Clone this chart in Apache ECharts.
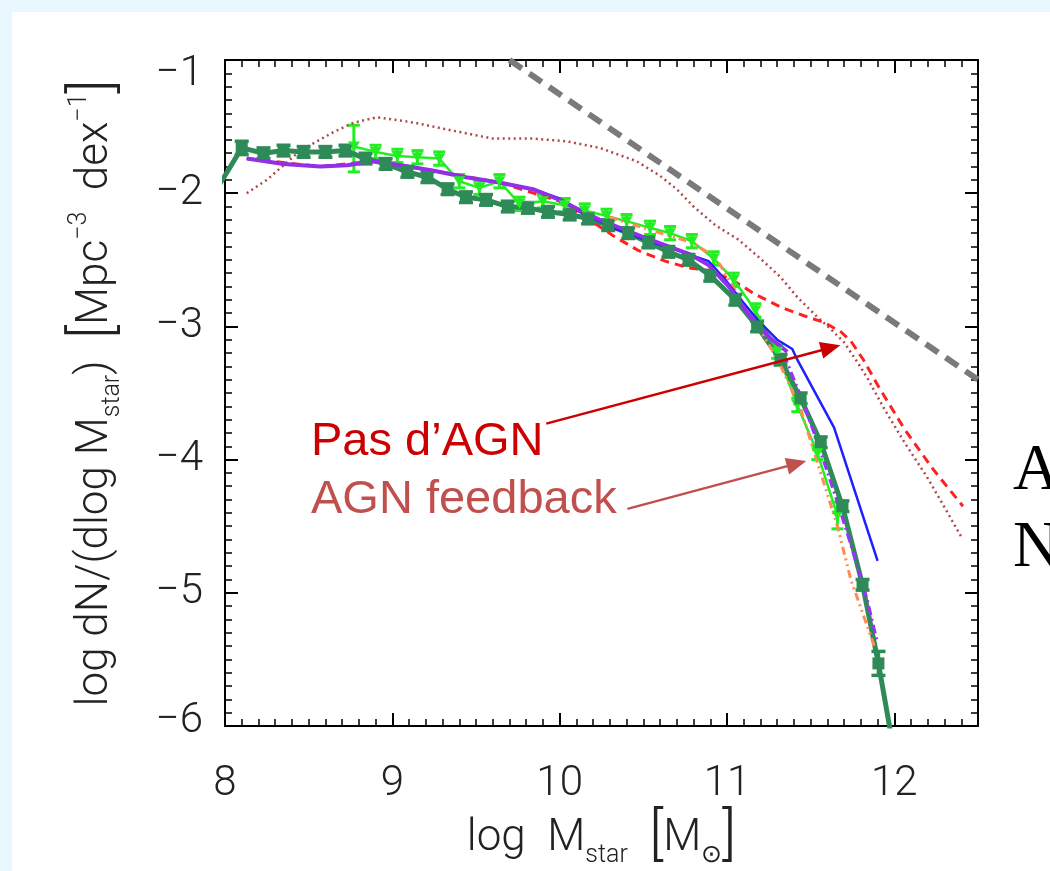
<!DOCTYPE html>
<html>
<head>
<meta charset="utf-8">
<script src="https://cdn.jsdelivr.net/npm/echarts@6/dist/echarts.min.js"></script>
<style>
  html, body { margin: 0; padding: 0; background: #E9F8FE; }
  #chart { width: 1050px; height: 871px; }
</style>
</head>
<body>
<div id="chart"></div>
<script>
// Galaxy stellar mass function: models with / without AGN feedback vs. observations

// tick labels
const xTicks = [8, 9, 10, 11, 12];
const yTicks = [-6, -5, -4, -3, -2, -1];

// straight reference line (grey, long dashes)
const refX = [9.70, 12.50];
const refY = [-1.00, -3.40];

// dotted brown-red model
const dotX = [8.13, 8.25, 8.45, 8.65, 8.77, 8.91, 9.13, 9.36, 9.60, 9.84, 10.04, 10.24, 10.46, 10.60, 10.70, 10.80, 10.93, 11.07, 11.19, 11.32, 11.42, 11.54, 11.62, 11.70, 11.78, 11.84, 11.94, 12.06, 12.19, 12.31, 12.40];
const dotY = [-2.00, -1.90, -1.68, -1.54, -1.47, -1.43, -1.47, -1.53, -1.59, -1.59, -1.61, -1.66, -1.76, -1.87, -1.97, -2.10, -2.24, -2.35, -2.48, -2.63, -2.78, -2.93, -3.02, -3.12, -3.27, -3.39, -3.62, -3.87, -4.12, -4.38, -4.58];

// red dashed model (no AGN feedback)
const noAgnX = [8.13, 8.57, 8.89, 9.24, 9.64, 10.00, 10.18, 10.32, 10.47, 10.63, 10.77, 10.89, 11.03, 11.17, 11.33, 11.46, 11.58, 11.68, 11.74, 11.82, 11.90, 12.06, 12.23, 12.41];
const noAgnY = [-1.74, -1.80, -1.76, -1.83, -1.92, -2.06, -2.20, -2.32, -2.43, -2.51, -2.56, -2.58, -2.65, -2.76, -2.86, -2.92, -2.97, -3.04, -3.11, -3.26, -3.44, -3.77, -4.07, -4.35];

// blue solid model
const blueX = [8.13, 8.35, 8.57, 8.73, 8.89, 9.05, 9.24, 9.44, 9.64, 9.84, 10.00, 10.12, 10.32, 10.53, 10.73, 10.89, 10.99, 11.09, 11.19, 11.30, 11.39, 11.42, 11.64, 11.90];
const blueY = [-1.74, -1.78, -1.80, -1.79, -1.76, -1.79, -1.83, -1.88, -1.92, -1.97, -2.04, -2.14, -2.26, -2.36, -2.44, -2.51, -2.65, -2.81, -2.96, -3.10, -3.17, -3.25, -3.76, -4.76];

// purple solid model
const purpleX = [8.13, 8.35, 8.57, 8.73, 8.89, 9.05, 9.24, 9.44, 9.64, 9.84, 10.00, 10.14, 10.24, 10.36, 10.50, 10.65, 10.78, 10.89, 11.01, 11.13, 11.26, 11.36];
const purpleY = [-1.74, -1.78, -1.80, -1.79, -1.76, -1.79, -1.83, -1.88, -1.92, -1.97, -2.05, -2.14, -2.20, -2.26, -2.33, -2.40, -2.46, -2.54, -2.70, -2.91, -3.09, -3.19];

// purple dash-dot model (high-mass tail)
const violetX = [11.34, 11.44, 11.54, 11.66, 11.76, 11.84, 11.90];
const violetY = [-3.21, -3.52, -3.87, -4.32, -4.72, -5.06, -5.38];

// orange dash-dot-dot model (AGN feedback)
const agnX = [10.30, 10.55, 10.79, 10.93, 11.05, 11.19, 11.30, 11.44, 11.54, 11.66, 11.74, 11.88];
const agnY = [-2.18, -2.28, -2.37, -2.48, -2.73, -3.01, -3.24, -3.62, -4.02, -4.50, -4.90, -5.40];

// light green observational points with error bars
const lgX  = [8.77, 8.90, 9.03, 9.15, 9.28, 9.40, 9.52, 9.64, 9.76, 9.90, 10.03, 10.15, 10.28, 10.40, 10.54, 10.66, 10.79, 10.92, 11.04, 11.17, 11.30, 11.42, 11.54, 11.66];
const lgY  = [-1.65, -1.69, -1.72, -1.73, -1.74, -1.91, -1.96, -1.91, -2.08, -2.06, -2.09, -2.13, -2.17, -2.21, -2.26, -2.30, -2.36, -2.49, -2.65, -2.88, -3.19, -3.59, -3.95, -4.42];
const lgLo = [-1.84, -1.74, -1.77, -1.78, -1.79, -1.96, -2.01, -1.96, -2.13, -2.11, -2.14, -2.18, -2.22, -2.26, -2.31, -2.35, -2.41, -2.54, -2.70, -2.93, -3.24, -3.64, -4.00, -4.52];
const lgHi = [-1.49, -1.64, -1.67, -1.68, -1.69, -1.86, -1.91, -1.86, -2.03, -2.01, -2.04, -2.08, -2.12, -2.16, -2.21, -2.25, -2.31, -2.44, -2.60, -2.83, -3.14, -3.54, -3.90, -4.32];

// dark green observational points with error bars
const dgX  = [7.96, 8.10, 8.23, 8.35, 8.47, 8.60, 8.72, 8.84, 8.96, 9.09, 9.21, 9.33, 9.44, 9.56, 9.69, 9.81, 9.93, 10.06, 10.17, 10.29, 10.41, 10.53, 10.65, 10.77, 10.90, 11.05, 11.18, 11.32, 11.44, 11.56, 11.69, 11.81, 11.905, 12.02];
const dgY  = [-1.95, -1.66, -1.70, -1.68, -1.69, -1.69, -1.68, -1.74, -1.78, -1.84, -1.88, -1.97, -2.03, -2.05, -2.10, -2.11, -2.14, -2.16, -2.19, -2.24, -2.30, -2.37, -2.44, -2.50, -2.62, -2.80, -3.00, -3.25, -3.54, -3.87, -4.35, -4.94, -5.53, -6.35];
const dgErr = [0, 0.05, 0.04, 0.04, 0.04, 0.04, 0.04, 0.04, 0.04, 0.04, 0.04, 0.04, 0.04, 0.04, 0.04, 0.04, 0.04, 0.04, 0.04, 0.04, 0.04, 0.04, 0.04, 0.04, 0.04, 0.04, 0.04, 0.04, 0.04, 0.04, 0.04, 0.04, 0.09, 0];

// annotation arrows: [start, end] in data coordinates
const arrowNoAgn = [[9.92, -3.73], [11.62, -3.16]];
const arrowAgn   = [[10.405, -4.37], [11.416, -4.03]];

const FONT = 'Roboto, "DejaVu Sans", sans-serif';
const AX = '#222';

const zip = (xs, ys) => xs.map((x, i) => [x, ys[i]]);

function errorBars(capHalf, color, width) {
  return function (params, api) {
    const x = api.value(0), lo = api.value(1), hi = api.value(2);
    if (hi === lo) return null;
    const a = api.coord([x, lo]), b = api.coord([x, hi]);
    const st = { stroke: color, lineWidth: width };
    return {
      type: 'group',
      children: [
        { type: 'line', shape: { x1: a[0], y1: a[1], x2: b[0], y2: b[1] }, style: st },
        { type: 'line', shape: { x1: a[0] - capHalf, y1: a[1], x2: a[0] + capHalf, y2: a[1] }, style: st },
        { type: 'line', shape: { x1: b[0] - capHalf, y1: b[1], x2: b[0] + capHalf, y2: b[1] }, style: st }
      ]
    };
  };
}

const tickFont = { fontFamily: FONT, fontWeight: 300, fontSize: 42, color: AX };

function baseAxis(extra) {
  return Object.assign({
    type: 'value',
    splitLine: { show: false },
    axisLine: { show: true, onZero: false, lineStyle: { color: '#000', width: 2 } },
    axisTick: { show: true, inside: true, length: 13, lineStyle: { color: '#000', width: 2 } },
    axisLabel: { show: false }
  }, extra);
}

const minorAxisTick = { show: true, inside: true, length: 7, lineStyle: { color: '#000', width: 1.5 } };

const titleRich = {
  t: { fontFamily: FONT, fontWeight: 300, fontSize: 44, lineHeight: 58, color: AX },
  s: { fontFamily: FONT, fontWeight: 300, fontSize: 25, lineHeight: 25, color: AX, verticalAlign: 'bottom' },
  p: { fontFamily: FONT, fontWeight: 300, fontSize: 25, lineHeight: 25, color: AX, verticalAlign: 'top' },
  b: { fontFamily: FONT, fontWeight: 300, fontSize: 58, lineHeight: 58, color: AX }
};

// y tick labels: the end labels are nudged inward like the original frame
const yLabelRich = {
  n: tickFont,
  top: Object.assign({ padding: [28, 0, 0, 0] }, tickFont),
  bot: Object.assign({ padding: [0, 0, 10, 0] }, tickFont)
};
function yLabel(v) {
  if (yTicks.indexOf(v) < 0) return '';
  const s = v < 0 ? '\u2212' + Math.abs(v) : String(v);
  const key = v === yTicks[yTicks.length - 1] ? 'top' : (v === yTicks[0] ? 'bot' : 'n');
  return '{' + key + '|' + s + '}';
}

const chart = echarts.init(document.getElementById('chart'), null, { renderer: 'canvas' });

const option = {
  animation: false,
  backgroundColor: '#E9F8FE',
  grid: { left: 225, right: 72, top: 60, bottom: 145, containLabel: false, outerBoundsMode: 'none' },
  graphic: [
    { type: 'rect', z: -100, silent: true, shape: { x: 12, y: 12, width: 1038, height: 859 }, style: { fill: '#FFFFFF' } },
    { type: 'text', silent: true, x: 311, y: 442,
      style: { text: 'Pas d\u2019AGN', font: '47px "Liberation Sans", Arial, sans-serif', fill: '#CC0000', textVerticalAlign: 'middle' } },
    { type: 'text', silent: true, x: 311, y: 500,
      style: { text: 'AGN feedback', font: '47px "Liberation Sans", Arial, sans-serif', fill: '#C0504D', textVerticalAlign: 'middle' } },
    { type: 'text', silent: true, x: 1013, y: 472,
      style: { text: 'A', font: '65px "Liberation Serif", "Times New Roman", serif', fill: '#000', textVerticalAlign: 'middle' } },
    { type: 'text', silent: true, x: 1013, y: 549,
      style: { text: 'N', font: '65px "Liberation Serif", "Times New Roman", serif', fill: '#000', textVerticalAlign: 'middle' } }
  ],
  xAxis: [
    baseAxis({
      position: 'bottom', min: 8, max: 12.5, interval: 1,
      axisLabel: Object.assign({ show: true, margin: 37, showMaxLabel: false,
        formatter: v => (xTicks.indexOf(v) >= 0 ? String(v) : '') }, tickFont),
      name: '{t|log  M}{s|star}{t|  }{b|[}{t|M}{s|\u2299}{b|]}',
      nameLocation: 'middle', nameGap: 66,
      nameTextStyle: { rich: titleRich }
    }),
    baseAxis({ position: 'bottom', min: 8, max: 12.5, interval: 0.1, axisLine: { show: false, onZero: false }, axisTick: minorAxisTick }),
    baseAxis({ position: 'top', min: 8, max: 12.5, interval: 1 }),
    baseAxis({ position: 'top', min: 8, max: 12.5, interval: 0.1, axisLine: { show: false, onZero: false }, axisTick: minorAxisTick })
  ],
  yAxis: [
    baseAxis({
      position: 'left', min: -6, max: -1, interval: 1,
      axisLabel: { show: true, margin: 22, formatter: yLabel, rich: yLabelRich },
      name: '{t|log dN/(dlog M}{s|star}{t|)  }{b|[}{t|Mpc}{p|\u22123}{t|  dex}{p|\u22121}{b|]}',
      nameLocation: 'middle', nameGap: 100, nameRotate: 90,
      nameTextStyle: { rich: titleRich }
    }),
    baseAxis({ position: 'left', min: -6, max: -1, interval: 0.1, axisLine: { show: false, onZero: false }, axisTick: minorAxisTick }),
    baseAxis({ position: 'right', min: -6, max: -1, interval: 1 }),
    baseAxis({ position: 'right', min: -6, max: -1, interval: 0.1, axisLine: { show: false, onZero: false }, axisTick: minorAxisTick })
  ],
  series: [
    {
      name: 'reference', type: 'line', data: zip(refX, refY), symbol: 'none', silent: true,
      lineStyle: { color: '#7A7A7A', width: 6, type: [15, 9] }
    },
    {
      name: 'dotted', type: 'line', data: zip(dotX, dotY), symbol: 'none', silent: true,
      lineStyle: { color: '#B04848', width: 2.5, type: [2, 3.5] }
    },
    {
      name: 'no AGN', type: 'line', data: zip(noAgnX, noAgnY), symbol: 'none', silent: true,
      lineStyle: { color: '#FF2020', width: 3, type: [9, 6] }
    },
    {
      name: 'light green err', type: 'custom', silent: true, clip: true,
      data: lgX.map((x, i) => [x, lgLo[i], lgHi[i]]),
      encode: { x: 0, y: [1, 2] },
      renderItem: errorBars(6, '#22EE22', 3)
    },
    {
      name: 'light green', type: 'line', data: zip(lgX, lgY), silent: true,
      symbol: 'triangle', symbolRotate: 180, symbolSize: [12, 10],
      itemStyle: { color: '#22EE22' },
      lineStyle: { color: '#22EE22', width: 2.5 }
    },
    {
      name: 'dark green err', type: 'custom', silent: true, clip: true,
      data: dgX.map((x, i) => [x, dgY[i] - dgErr[i], dgY[i] + dgErr[i]]),
      encode: { x: 0, y: [1, 2] },
      renderItem: errorBars(7, '#2E8B57', 3.5)
    },
    {
      name: 'dark green', type: 'line', silent: true,
      data: dgX.map((x, i) => (i === 0 || i === dgX.length - 1)
        ? { value: [x, dgY[i]], symbol: 'none' } : [x, dgY[i]]),
      symbol: 'rect', symbolSize: 12,
      itemStyle: { color: '#2E8B57' },
      lineStyle: { color: '#2E8B57', width: 5 }
    },
    {
      name: 'AGN feedback', type: 'line', data: zip(agnX, agnY), symbol: 'none', silent: true,
      lineStyle: { color: '#FF8C55', width: 3, type: [8, 4, 2, 4, 2, 4] }
    },
    {
      name: 'blue', type: 'line', data: zip(blueX, blueY), symbol: 'none', silent: true,
      lineStyle: { color: '#1F1FFF', width: 2.5 },
      markLine: {
        silent: true, animation: false,
        symbol: ['none', 'triangle'], symbolSize: [17, 20],
        label: { show: false },
        emphasis: { disabled: true },
        data: [
          [{ coord: arrowNoAgn[0], lineStyle: { color: '#CC0000', width: 2.5, type: 'solid' }, itemStyle: { color: '#CC0000' } },
           { coord: arrowNoAgn[1] }],
          [{ coord: arrowAgn[0], lineStyle: { color: '#C0504D', width: 2.5, type: 'solid' }, itemStyle: { color: '#C0504D' } },
           { coord: arrowAgn[1] }]
        ]
      }
    },
    {
      name: 'purple', type: 'line', data: zip(purpleX, purpleY), symbol: 'none', silent: true,
      lineStyle: { color: '#9130E8', width: 4 }
    },
    {
      name: 'violet', type: 'line', data: zip(violetX, violetY), symbol: 'none', silent: true,
      lineStyle: { color: '#9B30FF', width: 3, type: [9, 4, 2, 4] }
    }
  ]
};

chart.setOption(option);
</script>
</body>
</html>
